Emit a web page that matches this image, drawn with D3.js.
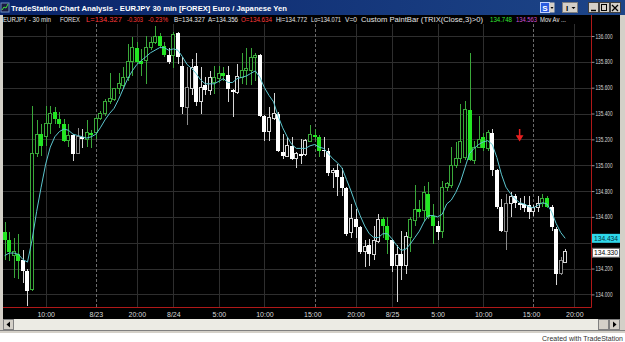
<!DOCTYPE html>
<html>
<head>
<meta charset="utf-8">
<script src="https://cdn.jsdelivr.net/npm/d3@7"></script>
<style>
  html, body { margin: 0; padding: 0; background: #d4d0c8; overflow: hidden; }
  svg { display: block; }
  text { font-family: "Liberation Sans", Arial, sans-serif; }
</style>
</head>
<body>
<div id="holder"></div>
<script>
// EURJPY 30 min bars (oldest first)
const open = [134.48,134.42,134.30,134.31,134.27,134.18,134.04,135.09,135.24,135.22,135.32,135.41,135.36,135.32,135.19,135.23,135.09,135.22,135.20,135.25,135.25,135.36,135.40,135.49,135.51,
  135.59,135.62,135.68,135.80,135.91,135.81,135.81,135.91,135.95,136.00,135.92,135.85,135.85,136.02,135.77,135.45,135.59,135.77,135.49,135.62,135.58,135.64,135.67,135.71,
  135.70,135.58,135.56,135.68,135.73,135.73,135.83,135.85,135.38,135.26,135.36,135.40,135.10,135.07,135.15,135.05,135.09,135.08,135.18,135.23,135.22,135.12,135.11,134.94,134.96,
  134.91,134.82,134.48,134.58,134.52,134.33,134.38,134.31,134.41,134.58,134.53,134.42,134.22,134.31,134.22,134.44,134.57,134.66,134.65,134.78,134.61,134.53,134.49,134.83,134.84,
  135.00,135.05,135.06,135.43,135.04,135.14,135.22,135.13,135.25,134.96,134.68,134.49,134.70,134.76,134.71,134.70,134.69,134.64,134.67,134.70,134.75,134.68,134.51,134.16,134.25];
const high = [134.56,134.48,134.44,134.47,134.34,134.20,135.46,135.35,135.32,135.46,135.46,135.45,135.41,135.36,135.32,135.24,135.29,135.28,135.35,135.27,135.37,135.42,135.51,135.71,135.60,
  135.71,135.76,135.94,135.99,135.95,135.90,136.00,135.99,136.08,136.02,135.95,135.91,136.03,136.03,135.84,135.76,135.82,135.87,135.76,135.68,135.73,135.77,135.77,135.76,
  135.77,135.59,135.78,135.87,135.91,135.91,135.87,135.86,135.39,135.45,135.56,135.41,135.24,135.22,135.22,135.10,135.20,135.20,135.31,135.28,135.23,135.22,135.13,134.98,135.01,
  134.98,134.83,134.70,134.66,134.53,134.42,134.43,134.53,134.62,134.60,134.60,134.42,134.38,134.49,134.48,134.60,134.85,134.73,134.84,134.87,134.70,134.57,134.88,134.87,135.14,
  135.18,135.47,135.50,135.87,135.19,135.38,135.25,135.27,135.28,134.97,134.74,134.78,134.79,134.78,134.75,134.76,134.76,134.69,134.76,134.78,134.76,134.69,134.52,134.29,134.35];
const low = [134.27,134.26,134.13,134.12,134.09,133.91,134.03,135.06,135.07,135.15,135.24,135.32,135.29,135.18,135.14,135.03,135.09,135.13,135.14,135.13,135.20,135.35,135.38,135.47,135.50,
  135.55,135.59,135.65,135.69,135.78,135.69,135.63,135.89,135.94,135.91,135.84,135.78,135.75,135.78,135.40,135.31,135.54,135.46,135.40,135.54,135.54,135.55,135.64,135.65,
  135.49,135.37,135.55,135.63,135.62,135.62,135.65,135.37,135.19,135.19,135.35,135.10,135.05,135.06,135.04,134.98,135.01,135.07,135.18,135.20,135.06,135.06,134.92,134.82,134.76,
  134.76,134.45,134.44,134.44,134.31,134.21,134.22,134.27,134.40,134.44,134.31,134.17,133.94,134.11,134.16,134.33,134.53,134.60,134.57,134.58,134.39,134.42,134.44,134.80,134.82,
  134.98,135.02,135.04,135.03,135.01,135.13,135.11,135.11,134.92,134.66,134.48,134.34,134.60,134.67,134.65,134.64,134.58,134.61,134.64,134.68,134.67,134.49,134.07,134.15,134.24];
const close = [134.42,134.33,134.33,134.26,134.18,134.03,135.09,135.24,135.15,135.32,135.40,135.36,135.32,135.19,135.23,135.09,135.22,135.20,135.25,135.23,135.36,135.40,135.49,135.52,135.59,
  135.63,135.68,135.80,135.91,135.80,135.78,135.91,135.95,136.00,135.92,135.85,135.80,136.01,135.84,135.45,135.60,135.76,135.49,135.60,135.58,135.68,135.68,135.71,135.69,
  135.59,135.57,135.69,135.73,135.75,135.83,135.85,135.38,135.26,135.37,135.40,135.11,135.07,135.15,135.05,135.09,135.07,135.19,135.24,135.22,135.11,135.11,134.94,134.96,134.91,
  134.82,134.47,134.59,134.52,134.33,134.37,134.31,134.42,134.58,134.53,134.42,134.22,134.31,134.22,134.45,134.58,134.66,134.64,134.79,134.60,134.53,134.48,134.83,134.86,135.00,
  135.05,135.18,135.43,135.04,135.14,135.20,135.13,135.25,134.96,134.68,134.49,134.70,134.76,134.71,134.69,134.67,134.64,134.67,134.70,134.74,134.68,134.52,134.16,134.26,134.33];
// paint bar colour per bar: g = TRIX>0 (green), w = white, k = grey
const paint = ("ggggwwgggggggggwkwggggggg" + "gggggggggggwgwwkwwwwwggg" + "wwwggggwwwwwwwwwwwgggwwww" +
  "wwwwwwwwwggwwwwggggggwggg" + "ggggggggwwwkwwwwwwwggwwkw").split("");
// moving average line
const movAv = [134.30,134.32,134.32,134.31,134.27,134.25,134.42,134.64,134.83,135.01,135.14,135.22,135.26,135.28,135.27,135.24,135.23,135.22,135.21,135.22,135.24,135.29,135.35,135.40,135.44,
  135.51,135.59,135.67,135.73,135.78,135.81,135.84,135.87,135.89,135.91,135.91,135.89,135.90,135.89,135.84,135.78,135.75,135.71,135.66,135.63,135.63,135.63,135.65,135.67,
  135.64,135.64,135.67,135.68,135.69,135.71,135.73,135.68,135.60,135.54,135.49,135.38,135.29,135.22,135.16,135.13,135.13,135.13,135.15,135.16,135.14,135.13,135.09,135.05,135.02,
  134.98,134.89,134.80,134.70,134.61,134.53,134.47,134.44,134.44,134.47,134.47,134.43,134.38,134.34,134.35,134.39,134.44,134.49,134.56,134.61,134.61,134.60,134.62,134.70,134.73,
  134.79,134.87,134.98,135.09,135.13,135.16,135.18,135.19,135.16,135.06,134.93,134.83,134.78,134.74,134.71,134.70,134.68,134.67,134.69,134.71,134.70,134.64,134.55,134.48,134.434];

// time axis: bar index of each label, and session breaks
const timeTicks = [9, 20, 29, 37, 47, 57, 67.5, 77, 85, 95, 105, 115.5, 125];
const timeLabels = ["10:00", "8/23", "20:00", "8/24", "5:00", "10:00", "15:00", "20:00", "8/25", "5:00", "10:00", "15:00", "20:00"];
const sessionBreaks = [20, 68, 116];
const priceTicks = [134.0, 134.2, 134.4, 134.6, 134.8, 135.0, 135.2, 135.4, 135.6, 135.8, 136.0];
// signal arrow
const signalBar = [113];
const signalPrice = [135.28];

// status line
const infoText = ["EURJPY - 30 min", "FOREX", "L=134.327", "-0.303", "-0.23%", "B=134.327", "A=134.356", "O=134.634",
  "Hi=134.772", "Lo=134.071", "V=0", "Custom PaintBar (TRIX(Close,3)>0)", "134.748", "134.563", "Mov Av ..."];
const infoX = [3, 60, 86, 127, 148, 174, 208, 241, 276, 311, 345, 361, 490, 516, 540];
const infoW = [48, 20, 36, 16, 20, 31, 30, 31, 31, 30, 12, 122, 22, 21, 26];
const infoColor = ["#e6e6e6", "#e6e6e6", "#ff3a3a", "#ff3a3a", "#ff3a3a", "#e6e6e6", "#e6e6e6", "#ff3a3a",
  "#e6e6e6", "#e6e6e6", "#e6e6e6", "#e6e6e6", "#33e633", "#d050d0", "#e6e6e6"];

var W = 625, H = 342;
var plot = {left: 3, right: 591, top: 24, bottom: 307};

var svg = d3.select("#holder")
            .append("svg")
            .attr("width", W)
            .attr("height", H);

var defs = svg.append("defs");
var grad = defs.append("linearGradient").attr("id", "tbar").attr("x1", 0).attr("x2", 1);
grad.append("stop").attr("offset", 0).attr("stop-color", "#0a246a");
grad.append("stop").attr("offset", 1).attr("stop-color", "#1d4588");
defs.append("clipPath").attr("id", "plotClip")
    .append("rect")
    .attr("x", plot.left).attr("y", plot.top)
    .attr("width", plot.right - plot.left).attr("height", plot.bottom - plot.top);

// window chrome
svg.append("rect").attr("width", W).attr("height", H).attr("fill", "#d4d0c8");
svg.append("rect").attr("x", 0).attr("y", 333).attr("width", W).attr("height", 9).attr("fill", "#ffffff");
svg.append("rect").attr("x", 0).attr("y", 0).attr("width", W).attr("height", 15).attr("fill", "url(#tbar)");
svg.append("rect").attr("x", 1).attr("y", 3).attr("width", 8).attr("height", 9).attr("fill", "#1a1a40").attr("stroke", "#7090c0");
svg.append("path").attr("d", "M2,10 L4,7 L6,8 L8,4").attr("stroke", "#40e040").attr("fill", "none");
svg.append("text")
   .attr("x", 11).attr("y", 11)
   .attr("fill", "#ffffff")
   .attr("font-size", 8).attr("font-weight", "bold")
   .attr("textLength", 276).attr("lengthAdjust", "spacingAndGlyphs")
   .text("TradeStation Chart Analysis - EURJPY 30 min [FOREX] Euro / Japanese Yen");

// title bar buttons
svg.append("rect").attr("x", 540.5).attr("y", 2.5).attr("width", 9).attr("height", 10).attr("fill", "#2a5ae0").attr("stroke", "#c0d0ff");
svg.append("text").attr("x", 545).attr("y", 10.5).attr("text-anchor", "middle").attr("font-size", 8).attr("font-weight", "bold").attr("fill", "#fff").text("S");
svg.append("rect").attr("x", 549.5).attr("y", 2.5).attr("width", 5).attr("height", 10).attr("fill", "#d4d0c8");
svg.append("path").attr("d", "M550.5,7 L553.5,7 L552,9 Z").attr("fill", "#000");
svg.append("rect").attr("x", 562.5).attr("y", 2.5).attr("width", 15).attr("height", 10).attr("fill", "#d4d0c8").attr("stroke", "#808080");
svg.append("text").attr("x", 567).attr("y", 10.5).attr("text-anchor", "middle").attr("font-size", 8).attr("font-weight", "bold").attr("fill", "#000").text("I");
svg.append("path").attr("d", "M571.5,7 L575.5,7 L573.5,9 Z").attr("fill", "#000");
var winBtn = ["min", "max", "close"];
svg.selectAll(".wbtn").data(winBtn).enter()
   .append("rect")
   .attr("class", "wbtn")
   .attr("x", (d, i) => 588.5 + i * 11).attr("y", 2.5)
   .attr("width", 10).attr("height", 10)
   .attr("fill", "#d4d0c8").attr("stroke", "#404040");
svg.append("path").attr("d", "M591,10.5 L596,10.5").attr("stroke", "#000").attr("stroke-width", 1.5);
svg.append("rect").attr("x", 601.5).attr("y", 4.5).attr("width", 5).attr("height", 6).attr("fill", "none").attr("stroke", "#000");
svg.append("path").attr("d", "M612,5 L618,11 M618,5 L612,11").attr("stroke", "#000").attr("stroke-width", 1.3);

// chart background
svg.append("rect").attr("x", 3).attr("y", 15).attr("width", 617).attr("height", 304).attr("fill", "#000000");

// status line text
svg.append("g").selectAll("text")
   .data(infoText).enter()
   .append("text")
   .attr("x", (d, i) => infoX[i]).attr("y", 22)
   .attr("font-size", 6.5)
   .attr("textLength", (d, i) => infoW[i]).attr("lengthAdjust", "spacingAndGlyphs")
   .attr("fill", (d, i) => infoColor[i])
   .text(d => d);

// scales
var x = d3.scaleLinear().domain([0, 123]).range([4.7, 565.2]);
var y = d3.scaleLinear().domain([134, 136]).range([294.4, 36]);

// grid
var grid = svg.append("g").attr("shape-rendering", "crispEdges");
grid.selectAll(".hg").data(priceTicks).enter()
    .append("line")
    .attr("x1", plot.left).attr("x2", plot.right)
    .attr("y1", d => Math.round(y(d)) + 0.5).attr("y2", d => Math.round(y(d)) + 0.5)
    .attr("stroke", "#2e2e2e");
grid.selectAll(".vg").data(timeTicks.filter(t => !sessionBreaks.some(s => Math.abs(s - t) <= 1))).enter()
    .append("line")
    .attr("x1", d => Math.round(x(d)) + 0.5).attr("x2", d => Math.round(x(d)) + 0.5)
    .attr("y1", plot.top).attr("y2", plot.bottom)
    .attr("stroke", "#2e2e2e");
grid.selectAll(".sg").data(sessionBreaks).enter()
    .append("line")
    .attr("x1", d => Math.round(x(d)) + 0.5).attr("x2", d => Math.round(x(d)) + 0.5)
    .attr("y1", plot.top).attr("y2", plot.bottom)
    .attr("stroke", "#6a6a6a").attr("stroke-dasharray", "3,2");

// candles
var colours = {
  g: {line: "#3aa83a", fill: "#22e622"},
  w: {line: "#d6d6d6", fill: "#ffffff"},
  k: {line: "#8a8a8a", fill: "#8a8a8a"}
};
var bars = open.map((o, i) => ({i: i, o: o, h: high[i], l: low[i], c: close[i], p: paint[i]}));

var candles = svg.append("g")
                 .attr("clip-path", "url(#plotClip)")
                 .attr("shape-rendering", "crispEdges");
var cg = candles.selectAll("g").data(bars).enter().append("g");
cg.append("line")
  .attr("x1", d => Math.round(x(d.i)) + 0.5)
  .attr("x2", d => Math.round(x(d.i)) + 0.5)
  .attr("y1", d => y(d.h))
  .attr("y2", d => y(d.l))
  .attr("stroke", d => colours[d.p].line);
cg.append("rect")
  .attr("x", d => d.c > d.o ? Math.round(x(d.i)) - 1.5 : Math.round(x(d.i)) - 2)
  .attr("width", d => d.c > d.o ? 3 : 4)
  .attr("y", d => y(Math.max(d.o, d.c)))
  .attr("height", d => Math.max(1, Math.abs(y(d.o) - y(d.c))))
  .attr("fill", d => d.c > d.o ? "#000" : colours[d.p].fill)
  .attr("stroke", d => d.c > d.o ? colours[d.p].line : "none");

// moving average
var maLine = d3.line()
               .x((d, i) => x(i))
               .y(d => y(d));
svg.append("path")
   .datum(movAv)
   .attr("clip-path", "url(#plotClip)")
   .attr("d", maLine)
   .attr("fill", "none")
   .attr("stroke", "#5cc6cf")
   .attr("stroke-width", 1);

// signal arrow
svg.selectAll(".sig").data(signalBar).enter()
   .append("path")
   .attr("d", (d, i) => {
      var ax = x(d), ay = y(signalPrice[i]);
      return "M" + ax + "," + ay + " L" + ax + "," + (ay + 8) +
             " M" + (ax - 2.5) + "," + (ay + 7) + " L" + ax + "," + (ay + 11) + " L" + (ax + 2.5) + "," + (ay + 7) + " Z";
   })
   .attr("stroke", "#e82020").attr("stroke-width", 1.5)
   .attr("fill", "#e82020");

// axes
svg.append("line").attr("x1", plot.left).attr("x2", plot.right + 0.5)
   .attr("y1", plot.bottom + 0.5).attr("y2", plot.bottom + 0.5)
   .attr("stroke", "#b01818");
svg.append("line").attr("x1", plot.right + 0.5).attr("x2", plot.right + 0.5)
   .attr("y1", 15).attr("y2", plot.bottom + 0.5)
   .attr("stroke", "#b01818");

var xAxis = svg.append("g")
               .attr("transform", "translate(0," + plot.bottom + ")")
               .call(d3.axisBottom(x).tickValues(timeTicks).tickFormat((d, i) => timeLabels[i]).tickSize(0).tickPadding(5.5));
xAxis.select(".domain").remove();
xAxis.selectAll("text").attr("fill", "#d8d8d8").attr("font-size", 7).attr("font-family", "Liberation Sans, Arial, sans-serif");

// last value markers cover their axis label, so those labels are left out
var lastMa = movAv[movAv.length - 1], lastClose = close[close.length - 1];
var hidden = v => Math.abs(y(v) - y(lastMa)) < 6 || Math.abs(y(v) - y(lastClose)) < 6;

var yAxis = svg.append("g")
               .attr("transform", "translate(" + (plot.right + 0.5) + ",0)")
               .call(d3.axisRight(y).tickValues(priceTicks.filter(v => !hidden(v))).tickFormat(d3.format(".3f")).tickSize(3).tickPadding(1));
yAxis.select(".domain").remove();
yAxis.selectAll("line").attr("stroke", "#909090");
yAxis.selectAll("text")
     .attr("fill", "#d8d8d8").attr("font-size", 6.5)
     .attr("font-family", "Liberation Sans, Arial, sans-serif")
     .attr("textLength", 17).attr("lengthAdjust", "spacingAndGlyphs");

svg.append("rect").attr("x", 592).attr("y", y(lastMa) - 4.5).attr("width", 28).attr("height", 9).attr("fill", "#2fd8ea");
svg.append("text").attr("x", 594).attr("y", y(lastMa) + 2.5).attr("font-size", 7).attr("fill", "#003040")
   .attr("textLength", 24).attr("lengthAdjust", "spacingAndGlyphs").text(d3.format(".3f")(lastMa));
svg.append("rect").attr("x", 592.5).attr("y", y(lastClose) - 3.5).attr("width", 27).attr("height", 9).attr("fill", "#ffffff").attr("stroke", "#606060");
svg.append("text").attr("x", 594).attr("y", y(lastClose) + 3.5).attr("font-size", 7).attr("fill", "#000")
   .attr("textLength", 24).attr("lengthAdjust", "spacingAndGlyphs").text(d3.format(".3f")(lastClose));

// scroll bar
svg.append("rect").attr("x", 3).attr("y", 319).attr("width", 617).attr("height", 11).attr("fill", "#ecebe4");
svg.append("rect").attr("x", 3.5).attr("y", 319.5).attr("width", 10).attr("height", 10).attr("fill", "#d4d0c8").attr("stroke", "#808080");
svg.append("path").attr("d", "M6.5,324.5 L10,321.5 L10,327.5 Z").attr("fill", "#000");
svg.append("rect").attr("x", 598.5).attr("y", 319.5).attr("width", 10).attr("height", 10).attr("fill", "#d4d0c8").attr("stroke", "#808080");
svg.append("rect").attr("x", 609.5).attr("y", 319.5).attr("width", 10).attr("height", 10).attr("fill", "#d4d0c8").attr("stroke", "#808080");
svg.append("path").attr("d", "M616.5,324.5 L613,321.5 L613,327.5 Z").attr("fill", "#000");
svg.append("line").attr("x1", 0).attr("x2", W).attr("y1", 330.5).attr("y2", 330.5).attr("stroke", "#808080");

svg.append("text")
   .attr("x", 623).attr("y", 341)
   .attr("text-anchor", "end")
   .attr("font-size", 7)
   .attr("fill", "#333")
   .text("Created with TradeStation");
</script>
</body>
</html>
